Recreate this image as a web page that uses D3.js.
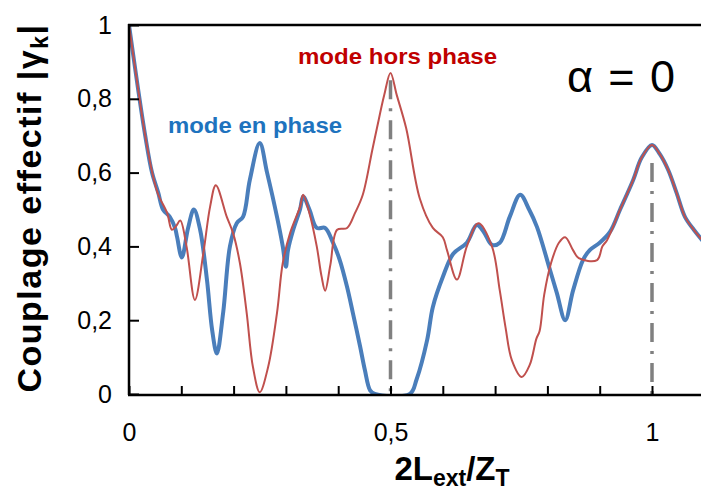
<!DOCTYPE html>
<html><head><meta charset="utf-8">
<script src="https://cdn.jsdelivr.net/npm/d3@7"></script>
<style>body{margin:0;background:#fff;} svg{display:block;font-family:Arial,"Liberation Sans",sans-serif;}</style>
</head><body><svg id="c" width="701" height="495"></svg>
<script>
// ---- data ----
const enPhaseX = [0,0.017,0.031,0.044,0.056,0.065,0.078,0.088,0.092,0.101,0.113,0.124,0.136,0.149,0.159,0.168,0.18,0.193,0.206,0.218,0.231,0.25,0.264,0.283,0.294,0.300,0.304,0.314,0.327,0.333,0.345,0.359,0.375,0.390,0.403,0.417,0.428,0.442,0.451,0.461,0.47,0.537,0.55,0.57,0.581,0.60,0.62,0.646,0.665,0.678,0.694,0.709,0.728,0.748,0.765,0.78,0.805,0.818,0.834,0.849,0.868,0.881,0.90,0.92,0.939,0.964,0.98,1.0,1.015,1.031,1.047,1.063,1.08,1.1];
const enPhaseY = [1,0.83,0.70,0.60,0.545,0.50,0.48,0.45,0.425,0.37,0.45,0.50,0.445,0.31,0.173,0.11,0.22,0.40,0.463,0.48,0.58,0.68,0.60,0.48,0.40,0.345,0.39,0.445,0.50,0.535,0.50,0.45,0.45,0.41,0.363,0.29,0.22,0.128,0.065,0.01,0,0,0.04,0.146,0.236,0.317,0.38,0.41,0.458,0.44,0.404,0.41,0.48,0.54,0.50,0.453,0.336,0.274,0.20,0.28,0.363,0.39,0.41,0.44,0.50,0.58,0.64,0.675,0.65,0.607,0.545,0.48,0.445,0.41];
const horsPhaseX = [0,0.017,0.031,0.046,0.056,0.073,0.082,0.090,0.098,0.11,0.126,0.142,0.155,0.166,0.187,0.199,0.212,0.225,0.237,0.25,0.266,0.283,0.294,0.308,0.327,0.333,0.345,0.359,0.368,0.375,0.385,0.398,0.417,0.432,0.447,0.465,0.474,0.488,0.500,0.512,0.53,0.556,0.581,0.600,0.608,0.627,0.646,0.668,0.694,0.709,0.72,0.732,0.751,0.766,0.779,0.785,0.794,0.807,0.822,0.834,0.849,0.86,0.895,0.905,0.914,0.939,0.964,0.98,1.0,1.015,1.031,1.047,1.063,1.08,1.1];
const horsPhaseY = [1,0.83,0.70,0.59,0.54,0.49,0.445,0.455,0.47,0.40,0.255,0.38,0.507,0.566,0.48,0.436,0.355,0.22,0.073,0.005,0.073,0.22,0.355,0.436,0.507,0.54,0.49,0.40,0.32,0.28,0.35,0.445,0.45,0.49,0.54,0.66,0.72,0.81,0.87,0.81,0.72,0.53,0.45,0.425,0.39,0.31,0.40,0.463,0.40,0.28,0.18,0.092,0.046,0.078,0.15,0.17,0.27,0.355,0.41,0.425,0.39,0.368,0.363,0.40,0.417,0.50,0.58,0.64,0.675,0.65,0.607,0.545,0.48,0.445,0.41];
const yTicks = [0,0.2,0.4,0.6,0.8,1];
const xTicks = [0,0.1,0.2,0.3,0.4,0.5,0.6,0.7,0.8,0.9,1.0];
const xLabeled = [0,0.5,1];
const markerX = [0.5,1];
const markerTop = [0.85,0.626];

// ---- chart ----
const svg = d3.select("#c");
const x = d3.scaleLinear().domain([0,1.1]).range([129,129+1.1*523]);
const y = d3.scaleLinear().domain([0,1]).range([394,25]);
const fmt = d => String(d).replace(".", ",");

svg.append("clipPath").attr("id","clip").append("rect")
  .attr("x",129).attr("y",0).attr("width",600).attr("height",396);

const line = d3.line().x(d=>x(d[0])).y(d=>y(d[1])).curve(d3.curveCatmullRom.alpha(0.5));
const blue = enPhaseX.map((v,i)=>[v,enPhaseY[i]]);
const red = horsPhaseX.map((v,i)=>[v,horsPhaseY[i]]);

const g = svg.append("g").attr("clip-path","url(#clip)");
g.append("path").attr("d",line(blue)).attr("fill","none").attr("stroke","#4a7ebb").attr("stroke-width",4).attr("stroke-linejoin","round");
g.append("path").attr("d",line(red)).attr("fill","none").attr("stroke","#c0504d").attr("stroke-width",2).attr("stroke-linejoin","round");

markerX.forEach((mx,i)=>{
  svg.append("line").attr("x1",x(mx)).attr("x2",x(mx)).attr("y1",y(markerTop[i])).attr("y2",y(0))
    .attr("stroke","#808080").attr("stroke-width",3.5).attr("stroke-dasharray","19,9,3,9");
});

// axes
const yAxis = d3.axisLeft(y).tickValues(yTicks).tickSize(-10).tickPadding(17).tickFormat(fmt);
const ya = svg.append("g").attr("transform","translate(129,0)").call(yAxis);
const xAxis = d3.axisBottom(x).tickValues(xTicks).tickSize(-8).tickPadding(29)
  .tickFormat(d => xLabeled.some(v=>Math.abs(v-d)<1e-9) ? fmt(d) : "");
const xa = svg.append("g").attr("transform","translate(0,394)").call(xAxis);
[ya,xa].forEach(a=>{
  a.select(".domain").remove();
  a.selectAll("line").attr("stroke","#000").attr("stroke-width",2);
  a.selectAll("text").attr("font-size",25).attr("fill","#000").attr("font-family","Arial, 'Liberation Sans', sans-serif");
});
// frame lines
svg.append("line").attr("x1",129).attr("x2",129).attr("y1",24).attr("y2",395).attr("stroke","#000").attr("stroke-width",2.5);
svg.append("line").attr("x1",128).attr("x2",701).attr("y1",395).attr("y2",395).attr("stroke","#000").attr("stroke-width",2.5);
svg.append("line").attr("x1",128).attr("x2",701).attr("y1",25).attr("y2",25).attr("stroke","#000").attr("stroke-width",2.5);

// labels
svg.append("text").attr("x",168).attr("y",133).attr("font-size",22).attr("font-weight","bold").attr("fill","#1e73be")
  .attr("textLength",174).attr("lengthAdjust","spacingAndGlyphs").text("mode en phase");
svg.append("text").attr("x",298).attr("y",64).attr("font-size",22).attr("font-weight","bold").attr("fill","#c00000")
  .attr("textLength",199).attr("lengthAdjust","spacingAndGlyphs").text("mode hors phase");
svg.append("text").attr("x",567).attr("y",92).attr("font-size",45).attr("fill","#000")
  .attr("textLength",108).text("α = 0");

// y title
const yt = svg.append("text").attr("transform","translate(41,208) rotate(-90)").attr("text-anchor","middle")
  .attr("font-size",34).attr("font-weight","bold").attr("fill","#000").attr("letter-spacing",1.5);
yt.append("tspan").text("Couplage effectif |γ");
yt.append("tspan").attr("font-size",23).attr("dy",7).text("k");
yt.append("tspan").attr("dy",-7).text("|");

// x title
const xt = svg.append("text").attr("x",452).attr("y",480).attr("text-anchor","middle")
  .attr("font-size",33).attr("font-weight","bold").attr("fill","#000");
xt.append("tspan").text("2L");
xt.append("tspan").attr("font-size",23).attr("dy",6).text("ext");
xt.append("tspan").attr("dy",-6).text("/Z");
xt.append("tspan").attr("font-size",23).attr("dy",6).text("T");
</script></body></html>
